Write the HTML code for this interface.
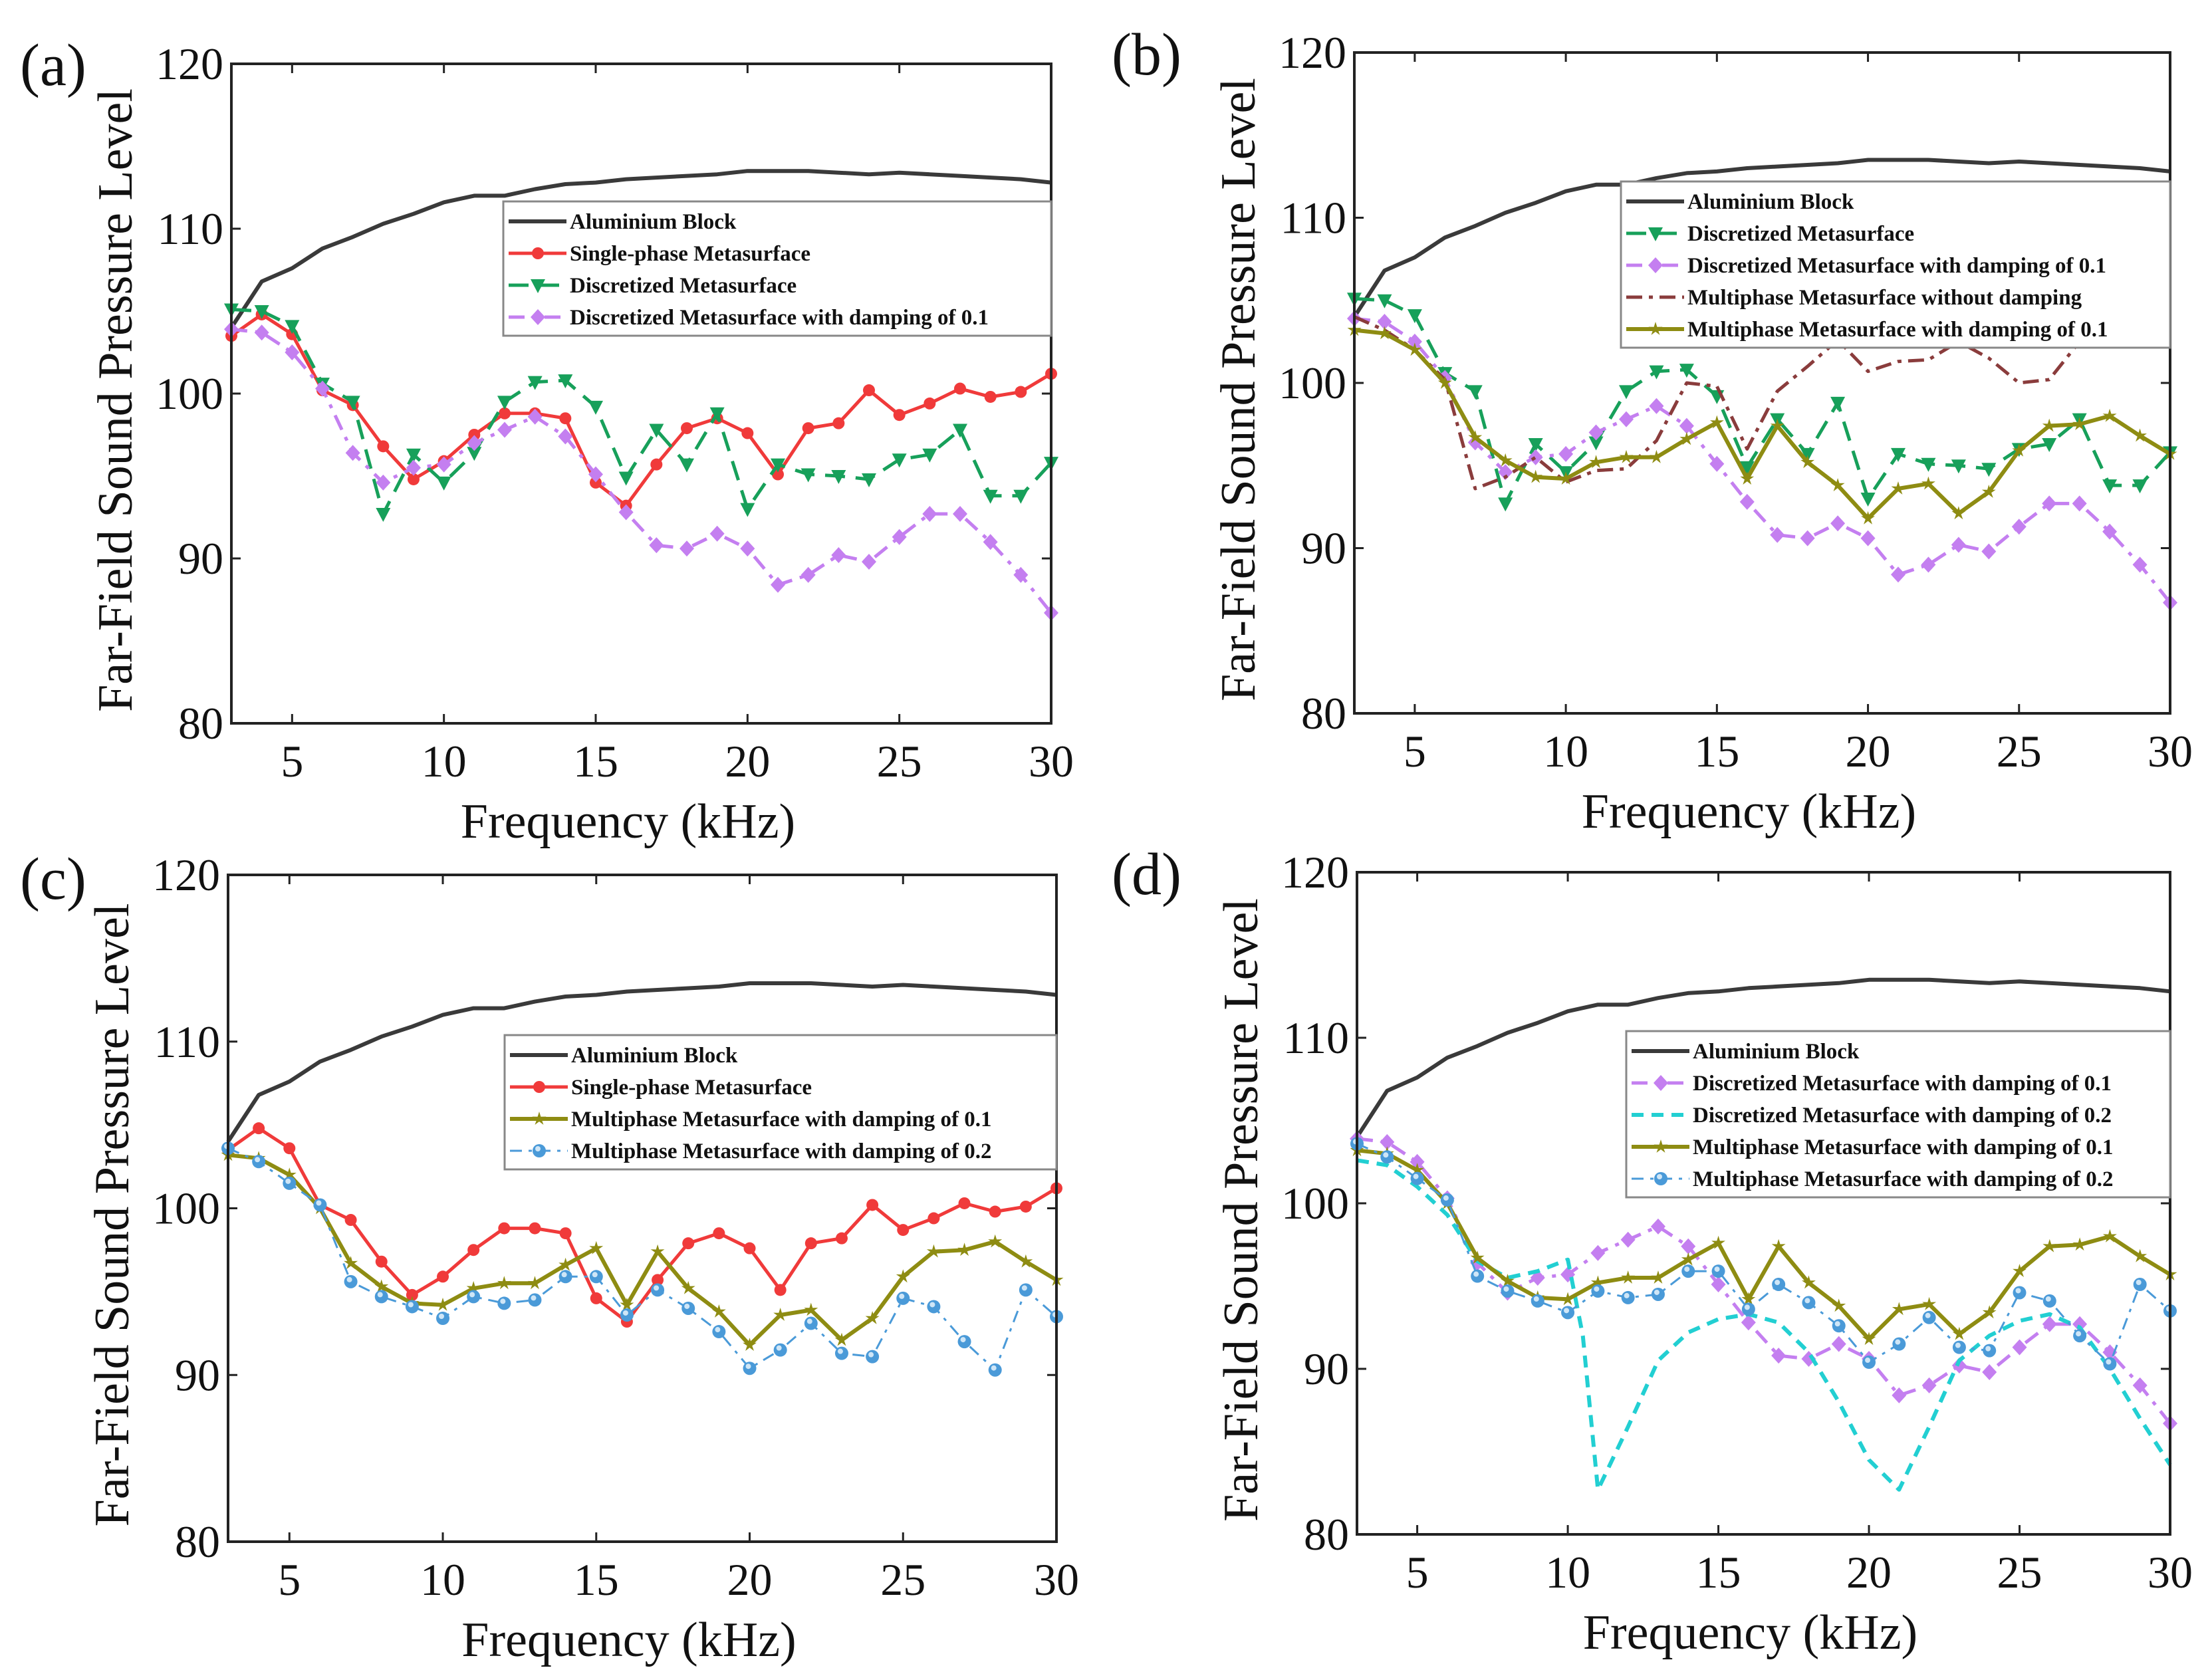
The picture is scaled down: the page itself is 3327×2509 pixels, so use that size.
<!DOCTYPE html>
<html><head><meta charset="utf-8"><style>
html,body{margin:0;padding:0;background:#fff;}
svg{display:block;}
text{font-family:"Liberation Serif","DejaVu Serif",serif;}
</style></head><body>
<svg id="fig" width="3327" height="2509" viewBox="0 0 3327 2509" xmlns="http://www.w3.org/2000/svg" font-family="Liberation Serif, serif">
</svg>
<script>
const freq = [3,4,5,6,7,8,9,10,11,12,13,14,15,16,17,18,19,20,21,22,23,24,25,26,27,28,29,30];
const aluminium = [104,106.8,107.6,108.8,109.5,110.3,110.9,111.6,112,112,112.4,112.7,112.8,113,113.1,113.2,113.3,113.5,113.5,113.5,113.4,113.3,113.4,113.3,113.2,113.1,113,112.8];
const singlePhase = [103.5,104.8,103.6,100.2,99.3,96.8,94.8,95.9,97.5,98.8,98.8,98.5,94.6,93.2,95.7,97.9,98.5,97.6,95.1,97.9,98.2,100.2,98.7,99.4,100.3,99.8,100.1,101.2];
const discretized = [105.1,105,104.1,100.6,99.5,92.7,96.3,94.6,96.4,99.5,100.7,100.8,99.2,94.9,97.8,95.7,98.8,93,95.7,95.1,95,94.8,96,96.3,97.8,93.8,93.8,95.8];
const discDamp01 = [103.9,103.7,102.5,100.3,96.4,94.6,95.5,95.7,97,97.8,98.6,97.4,95.1,92.8,90.8,90.6,91.5,90.6,88.4,89,90.2,89.8,91.3,92.7,92.7,91,89,86.7];
const multiNoDamp = [104,103.2,102,100.2,93.6,94.3,95.5,94,94.7,94.8,96.5,100,99.8,96,99.5,101,102.6,100.7,101.3,101.4,102.5,101.5,100,100.2,102.5,103.5,104,104.8];
const multiDamp01 = [103.2,103,102,100,96.7,95.3,94.3,94.2,95.2,95.5,95.5,96.6,97.6,94.2,97.4,95.2,93.8,91.8,93.6,93.9,92.1,93.4,95.9,97.4,97.5,98,96.8,95.7];
const multiDamp02 = [103.6,102.8,101.5,100.2,95.6,94.7,94.1,93.4,94.7,94.3,94.5,95.9,95.9,93.6,95.1,94,92.6,90.4,91.5,93.1,91.3,91.1,94.6,94.1,92,90.3,95.1,93.5];
const freqD2 = [3,4,5,6,7,8,9,10,10.5,11,12,13,14,15,16,17,18,19,20,21,22,23,24,25,26,27,28,29,30];
const discDamp02 = [102.6,102.3,101,99.3,96.5,95.5,95.9,96.6,92,82.7,86.5,90.5,92.2,93,93.3,92.8,91,88,84.5,82.7,86.5,90.5,92,92.9,93.3,92.5,90,87,84.2];
const xTicks = [5,10,15,20,25,30];
const yTicks = [80,90,100,110,120];

const NS="http://www.w3.org/2000/svg";
const svg=document.getElementById('fig');
function mk(tag,attrs,parent){const e=document.createElementNS(NS,tag);for(const k in attrs)e.setAttribute(k,attrs[k]);(parent||svg).appendChild(e);return e;}
const FF='Liberation Serif, DejaVu Serif, serif';

const S={
 alu:{name:'Aluminium Block',x:freq,y:aluminium,color:'#3a3a3a',dash:'',marker:null,w:6},
 sp:{name:'Single-phase Metasurface',x:freq,y:singlePhase,color:'#f03a3a',dash:'',marker:'circle',w:5},
 dm:{name:'Discretized Metasurface',x:freq,y:discretized,color:'#17a05a',dash:'30,16',marker:'tri',w:5},
 dd1:{name:'Discretized Metasurface with damping of 0.1',x:freq,y:discDamp01,color:'#c47ff0',dash:'24,12,6,12',marker:'diamond',w:5},
 mnd:{name:'Multiphase Metasurface without damping',x:freq,y:multiNoDamp,color:'#8a3c3c',dash:'24,10,6,10',marker:null,w:5},
 md1:{name:'Multiphase Metasurface with damping of 0.1',x:freq,y:multiDamp01,color:'#8e8c12',dash:'',marker:'star',w:6},
 md2:{name:'Multiphase Metasurface with damping of 0.2',x:freq,y:multiDamp02,color:'#4a9ad8',dash:'18,10,5,10',marker:'ball',w:3},
 dd2:{name:'Discretized Metasurface with damping of 0.2',x:freqD2,y:discDamp02,color:'#22cfd2',dash:'18,12',marker:null,w:6}
};

const panels=[
 {id:'a',L:348,R:1581,T:96,B:1088,lab:[30,128],leg:[757,303,1581],series:['alu','sp','dm','dd1']},
 {id:'b',L:2037,R:3264,T:79,B:1073,lab:[1672,112],leg:[2438,273,3264],series:['alu','dm','dd1','mnd','md1']},
 {id:'c',L:343,R:1589,T:1316,B:2319,lab:[30,1352],leg:[759,1557,1589],series:['alu','sp','md1','md2']},
 {id:'d',L:2041,R:3264,T:1312,B:2308,lab:[1672,1345],leg:[2446,1551,3264],series:['alu','dd1','dd2','md1','md2']}
];

function marker(g,type,cx,cy,color){
 let e;
 if(type==='circle'){e=mk('circle',{cx,cy,r:9,fill:color},g);}
 else if(type==='tri'){e=mk('polygon',{points:`${cx-11},${cy-9} ${cx+11},${cy-9} ${cx},${cy+12}`,fill:color},g);}
 else if(type==='diamond'){e=mk('polygon',{points:`${cx},${cy-12} ${cx+11},${cy} ${cx},${cy+12} ${cx-11},${cy}`,fill:color},g);}
 else if(type==='star'){let p=[];for(let i=0;i<10;i++){const r=i%2?4:11,a=-Math.PI/2+i*Math.PI/5;p.push((cx+r*Math.cos(a)).toFixed(1)+','+(cy+r*Math.sin(a)).toFixed(1));}e=mk('polygon',{points:p.join(' '),fill:color},g);}
 else if(type==='ball'){e=mk('circle',{cx,cy,r:10,fill:color},g);mk('circle',{cx:cx-2,cy:cy-3,r:4,fill:'#cfe6f7'},g);}
 if(e){}
}

panels.forEach(p=>{
 const g=mk('g',{'font-family':FF});
 
 
 const xs=v=>p.L+(v-3)/27*(p.R-p.L);
 const ys=v=>p.B-(v-80)/40*(p.B-p.T);
 p.series.forEach(k=>{
  const s=S[k];
  const sg=mk('g',{},g);
  
  
  const pts=s.x.map((x,i)=>xs(x).toFixed(1)+','+ys(s.y[i]).toFixed(1)).join(' ');
  const pl=mk('polyline',{points:pts,fill:'none',stroke:s.color,'stroke-width':s.w,'stroke-dasharray':s.dash,'stroke-linejoin':'round'},sg);
  
  
  if(s.marker) s.x.forEach((x,i)=>marker(sg,s.marker,xs(x),ys(s.y[i]),s.color));
 });
 const fr=mk('rect',{x:p.L,y:p.T,width:p.R-p.L,height:p.B-p.T,fill:'none',stroke:'#222','stroke-width':4},g);
 
 
 xTicks.forEach(t=>{
  const x=xs(t);
  mk('line',{x1:x,y1:p.B,x2:x,y2:p.B-14,stroke:'#222','stroke-width':3},g);
  mk('line',{x1:x,y1:p.T,x2:x,y2:p.T+14,stroke:'#222','stroke-width':3},g);
  const tx=mk('text',{x:x,y:p.B+80,'font-size':68,'text-anchor':'middle',fill:'#111','font-family':FF},g);
  tx.textContent=t;
  
  
 });
 yTicks.forEach(t=>{
  const y=ys(t);
  mk('line',{x1:p.L,y1:y,x2:p.L+14,y2:y,stroke:'#222','stroke-width':3},g);
  mk('line',{x1:p.R,y1:y,x2:p.R-14,y2:y,stroke:'#222','stroke-width':3},g);
  const ty=mk('text',{x:p.L-12,y:y+23,'font-size':68,'text-anchor':'end',fill:'#111','font-family':FF},g);
  ty.textContent=t;
  
  
 });
 const xt=mk('text',{x:(p.L+p.R)/2-20,y:p.B+172,'font-size':74,'text-anchor':'middle',fill:'#111','font-family':FF},g);
 xt.textContent='Frequency (kHz)';
 
 
 const cy=(p.T+p.B)/2+10;
 const yt=mk('text',{x:p.L-150,y:cy,'font-size':74,'text-anchor':'middle',fill:'#111','font-family':FF,transform:`rotate(-90 ${p.L-150} ${cy})`},g);
 yt.textContent='Far-Field Sound Pressure Level';
 
 
 const pl=mk('text',{x:p.lab[0],y:p.lab[1],'font-size':90,fill:'#111','font-family':FF},g);
 pl.textContent='('+p.id+')';
 
 
 const [lx,ly,lr]=p.leg, rowH=48, n=p.series.length;
 const lg=mk('g',{},g);
 
 
 mk('rect',{x:lx,y:ly,width:lr-lx,height:n*rowH+10,fill:'#fff',stroke:'#888','stroke-width':3},lg);
 p.series.forEach((k,i)=>{
  const s=S[k];const y=ly+30+i*rowH;
  const e=mk('g',{},lg);
  
  
  mk('line',{x1:lx+8,y1:y,x2:lx+95,y2:y,stroke:s.color,'stroke-width':s.w,'stroke-dasharray':s.dash},e);
  if(s.marker) marker(e,s.marker,lx+52,y,s.color);
  const t=mk('text',{x:lx+100,y:y+11,'font-size':33,'font-weight':'bold',fill:'#111','font-family':FF},e);
  t.textContent=s.name;
 });
});
</script>
</body></html>
